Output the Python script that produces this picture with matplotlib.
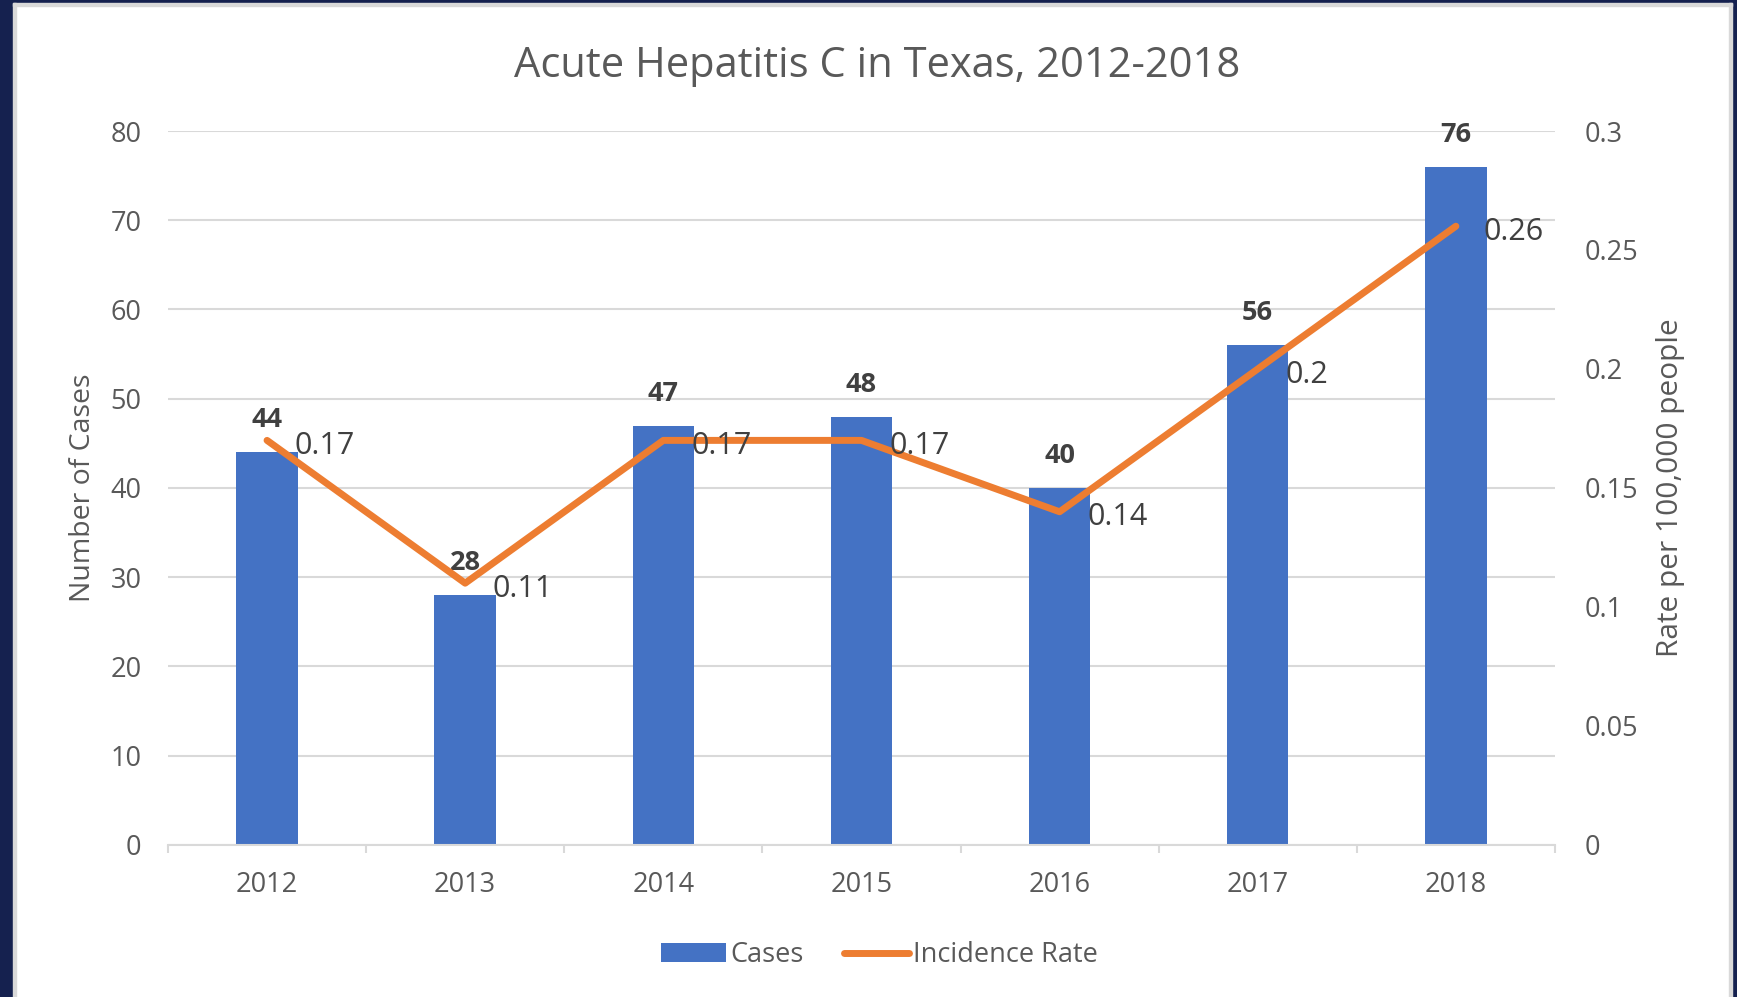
import numpy as np
import matplotlib.pyplot as plt
from matplotlib.patches import Patch, Rectangle
from matplotlib.lines import Line2D

plt.rcParams['font.family'] = ['Open Sans', 'DejaVu Sans']

# data
years = ["2012", "2013", "2014", "2015", "2016", "2017", "2018"]
cases = [44, 28, 47, 48, 40, 56, 76]
rates = [0.17, 0.11, 0.17, 0.17, 0.14, 0.2, 0.26]
rate_labels = ["0.17", "0.11", "0.17", "0.17", "0.14", "0.2", "0.26"]
left_ticks = [0, 10, 20, 30, 40, 50, 60, 70, 80]
right_ticks = [0, 0.05, 0.1, 0.15, 0.2, 0.25, 0.3]
right_tick_labels = ["0", "0.05", "0.1", "0.15", "0.2", "0.25", "0.3"]

blue = "#4472C4"
orange = "#ED7D31"
tick_col = "#595959"
lab_col = "#404040"
grid_col = "#D9D9D9"

fig = plt.figure(figsize=(17.37, 9.97), dpi=100)
ax = fig.add_axes([0.0967, 0.1525, 0.7985, 0.7161])
ax2 = ax.twinx()

x = np.arange(len(years))

# bars
ax.bar(x, cases, width=0.31, color=blue, zorder=2)
ax.set_xlim(-0.5, len(years) - 0.5)
ax.set_ylim(0, 80)
ax.set_yticks(left_ticks)
ax.set_xticks(x)
ax.set_xticklabels(years)
ax.set_xticks(np.arange(-0.5, len(years), 1), minor=True)
ax.tick_params(axis='x', which='major', length=0, pad=19, labelsize=19.5, labelcolor=tick_col)
ax.tick_params(axis='x', which='minor', length=6, width=1.5, color=grid_col, direction='out')
ax.tick_params(axis='y', length=0, pad=19, labelsize=19.5, labelcolor=tick_col)
ax.grid(axis='y', color=grid_col, linewidth=1.5, zorder=0)
ax.set_axisbelow(True)
for s in ['top', 'left', 'right']:
    ax.spines[s].set_visible(False)
ax.spines['bottom'].set_color(grid_col)
ax.spines['bottom'].set_linewidth(1.5)
ax.set_ylabel("Number of Cases", fontsize=20.5, color=tick_col, labelpad=10)

for xi, c in zip(x, cases):
    ax.annotate(str(c), (xi, c), xytext=(0, 23), textcoords='offset points',
                ha='center', va='center', fontsize=19.5, fontweight='bold', color=lab_col)

# rate line
ax2.plot(x, rates, color=orange, linewidth=5, solid_capstyle='round',
         solid_joinstyle='round', zorder=3)
ax2.set_ylim(0, 0.3)
ax2.set_yticks(right_ticks)
ax2.set_yticklabels(right_tick_labels)
ax2.tick_params(axis='y', length=0, pad=21, labelsize=19.5, labelcolor=tick_col)
for s in ['top', 'left', 'right', 'bottom']:
    ax2.spines[s].set_visible(False)
ax2.set_ylabel("Rate per 100,000 people", fontsize=21.5, color=tick_col, labelpad=13)

for xi, r, t in zip(x, rates, rate_labels):
    ax2.annotate(t, (xi, r), xytext=(20, -4), textcoords='offset points',
                 ha='left', va='center', fontsize=22, color=lab_col)

fig.text(0.505, 0.934, "Acute Hepatitis C in Texas, 2012-2018", ha='center', va='center',
         fontsize=30, color=tick_col)

handles = [Patch(facecolor=blue, label="Cases"),
           Line2D([0], [0], color=orange, linewidth=5, solid_capstyle='round', label="Incidence Rate")]
fig.legend(handles=handles, loc='center', bbox_to_anchor=(0.5065, 0.042), ncol=2,
           frameon=False, fontsize=19.5, labelcolor=tick_col, handlelength=2.4,
           handletextpad=0.15, columnspacing=1.5)

# dark frame around the chart
navy = "#15214F"
fig.patches.append(Rectangle((0, 0), 13 / 1737, 1, transform=fig.transFigure, color=navy, zorder=0))
fig.patches.append(Rectangle((0, 1 - 3 / 997), 1, 3 / 997, transform=fig.transFigure, color=navy, zorder=0))
fig.patches.append(Rectangle((1 - 5 / 1737, 0), 5 / 1737, 1, transform=fig.transFigure, color=navy, zorder=0))
fig.patches.append(Rectangle((13 / 1737, 0), 3 / 1737, 1 - 3 / 997, transform=fig.transFigure, color=grid_col, zorder=0))
fig.patches.append(Rectangle((13 / 1737, 1 - 6 / 997), 1 - 18 / 1737, 3 / 997, transform=fig.transFigure, color=grid_col, zorder=0))
fig.patches.append(Rectangle((1 - 8 / 1737, 0), 3 / 1737, 1 - 3 / 997, transform=fig.transFigure, color=grid_col, zorder=0))

fig.savefig("out.png", dpi=100)
